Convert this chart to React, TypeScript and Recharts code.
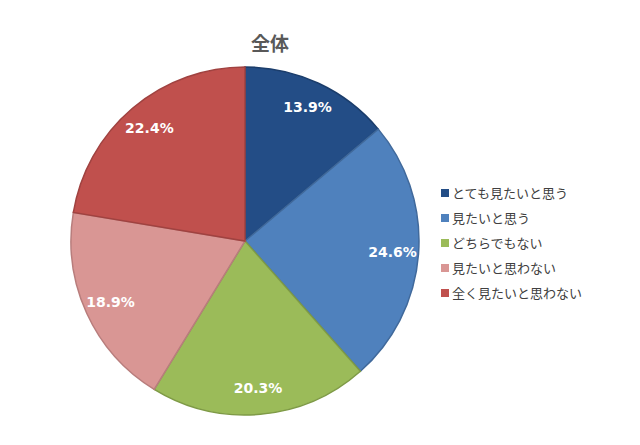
import React from 'react';
import { PieChart, Pie, Cell, Legend } from 'recharts';

const categories = ['とても見たいと思う', '見たいと思う', 'どちらでもない', '見たいと思わない', '全く見たいと思わない'];
const values = [13.9, 24.6, 20.3, 18.9, 22.4];
const colors = ['#234D86', '#4F81BD', '#9BBB59', '#D99694', '#C0504D'];
const strokes = ['#1B3D6B', '#40699B', '#7E9A46', '#B87D7C', '#A04240'];
const title = '全体';

const data = categories.map((name, i) => ({ name, value: values[i] }));

const RAD = Math.PI / 180;

const renderLabel = (props: any) => {
  const { cx, cy, midAngle, outerRadius, value } = props;
  const r = outerRadius * 0.85;
  const x = cx + r * Math.cos(-midAngle * RAD);
  const y = cy + r * Math.sin(-midAngle * RAD);
  return (
    <text
      x={x}
      y={y}
      fill="#FFFFFF"
      textAnchor="middle"
      dominantBaseline="central"
      style={{ fontFamily: 'DejaVu Sans, Verdana, sans-serif', fontWeight: 'bold', fontSize: 14 }}
    >
      {value.toFixed(1)}%
    </text>
  );
};

const renderLegend = () => (
  <div style={{ fontFamily: '"Noto Sans CJK JP", sans-serif', fontSize: 13, color: '#404040' }}>
    {categories.map((c, i) => (
      <div key={c} style={{ display: 'flex', alignItems: 'center', height: 25 }}>
        <span style={{ display: 'inline-block', width: 8, height: 8, background: colors[i], marginRight: 3 }} />
        <span>{c}</span>
      </div>
    ))}
  </div>
);

export default function App() {
  return (
    <div style={{ position: 'absolute', left: 0, top: 0, width: 640, height: 445, background: '#fff' }}>
      <PieChart width={640} height={445} margin={{ top: 0, right: 0, bottom: 0, left: 0 }}>
        <text
          x={270}
          y={42}
          textAnchor="middle"
          dominantBaseline="central"
          fill="#595959"
          style={{ fontFamily: '"Noto Sans CJK JP", sans-serif', fontWeight: 'bold', fontSize: 19 }}
        >
          {title}
        </text>
        <Pie
          data={data}
          dataKey="value"
          nameKey="name"
          cx={245}
          cy={241}
          outerRadius={174}
          startAngle={90}
          endAngle={-270}
          label={renderLabel}
          labelLine={false}
          isAnimationActive={false}
        >
          {data.map((d, i) => (
            <Cell key={d.name} fill={colors[i]} stroke={strokes[i]} strokeWidth={1.5} />
          ))}
        </Pie>
        <Legend
          content={renderLegend}
          wrapperStyle={{ position: 'absolute', left: 441, top: 180, width: 190 }}
        />
      </PieChart>
    </div>
  );
}
